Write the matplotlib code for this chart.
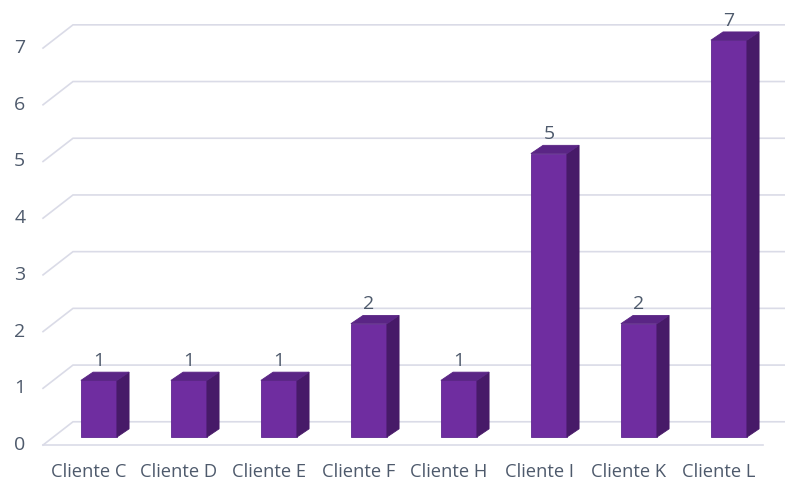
import matplotlib.pyplot as plt
from matplotlib.patches import Polygon

clientes = ['Cliente C', 'Cliente D', 'Cliente E', 'Cliente F',
            'Cliente H', 'Cliente I', 'Cliente K', 'Cliente L']
valores = [1, 1, 1, 2, 1, 5, 2, 7]
yticks = [0, 1, 2, 3, 4, 5, 6, 7]

# colours
front_c = '#6F2DA0'
side_c = '#471A68'
top_c = '#5A2585'
grid_c = '#DADBE7'
text_c = '#4E5A6C'

# 3d depth (in data units: x = category, y = value)
DX, DY = 0.333, 0.41          # full wall depth
bar_off_x, bar_off_y = 0.11, 0.14   # bar front face offset from floor front
bar_dx, bar_dy = 0.135, 0.145  # bar depth
bar_w = 0.4

fig = plt.figure(figsize=(7.85, 4.8), dpi=100)
ax = fig.add_axes([0, 0, 1, 1])
ax.set_xlim(-0.989, 7.733)
ax.set_ylim(-0.617, 7.848)
ax.axis('off')

x_left = -0.511
x_right = 7.733
# gridlines: diagonal on the left wall plus back line
for v in yticks:
    ax.plot([x_left, x_left + DX, x_right], [v, v + DY, v + DY],
            color=grid_c, lw=1.2, zorder=1, solid_joinstyle='miter')
    ax.text(-0.77, v, str(v), ha='center', va='center', fontsize=14,
            color=text_c, family='Open Sans')
# front edge of floor
ax.plot([x_left, 7.49], [0, 0], color=grid_c, lw=1.2, zorder=1)

for i, (name, v) in enumerate(zip(clientes, valores)):
    x0 = i - bar_w / 2 + bar_off_x
    x1 = x0 + bar_w
    y0 = bar_off_y
    y1 = v + bar_off_y
    front = Polygon([(x0, y0), (x1, y0), (x1, y1), (x0, y1)],
                    closed=True, fc=front_c, ec='#5E2690', lw=0.6, zorder=3)
    side = Polygon([(x1, y0), (x1 + bar_dx, y0 + bar_dy), (x1 + bar_dx, y1 + bar_dy), (x1, y1)],
                   closed=True, fc=side_c, ec=side_c, lw=0.6, zorder=3)
    top = Polygon([(x0, y1), (x1, y1), (x1 + bar_dx, y1 + bar_dy), (x0 + bar_dx, y1 + bar_dy)],
                  closed=True, fc=top_c, ec=top_c, lw=0.6, zorder=3)
    for p in (front, side, top):
        ax.add_patch(p)
    ax.text((x0 + x1) / 2, y1 + 0.18, str(v), ha='center', va='bottom', fontsize=14,
            color=text_c, family='Open Sans')
    ax.text(i, -0.47, name, ha='center', va='center', fontsize=13.2,
            color=text_c, family='Open Sans')

fig.savefig('out.png', dpi=100)
